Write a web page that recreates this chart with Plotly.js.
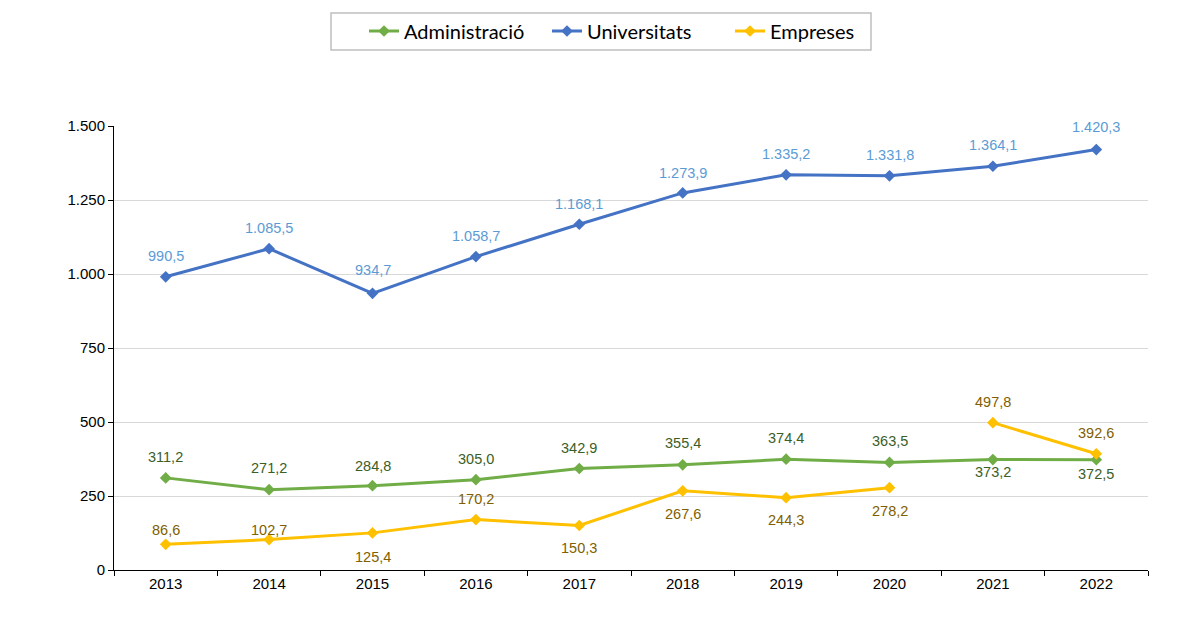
<!DOCTYPE html>
<html><head><meta charset="utf-8">
<script src="https://cdn.plot.ly/plotly-3.0.1.min.js"></script>
<style>body{margin:0;background:#fff}#chart{width:1202px;height:635px}</style>
</head><body><div id="chart"></div>
<script>
var years = ['2013','2014','2015','2016','2017','2018','2019','2020','2021','2022'];
var administracio = [311.2, 271.2, 284.8, 305.0, 342.9, 355.4, 374.4, 363.5, 373.2, 372.5];
var universitats = [990.5, 1085.5, 934.7, 1058.7, 1168.1, 1273.9, 1335.2, 1331.8, 1364.1, 1420.3];
var empreses = [86.6, 102.7, 125.4, 170.2, 150.3, 267.6, 244.3, 278.2, 497.8, 392.6];
var empresesBreakAfter = '2020';
var yTicks = [0, 250, 500, 750, 1000, 1250, 1500];

// label offsets in px (positive = above)
var admShift = [21, 22, 20, 21, 21, 22, 21, 21, -12, -14];
var uniShift = [21, 21, 23, 21, 20, 20, 21, 21, 21, 23];
var empShift = [14, 10, -24, 21, -22, -23, -22, -23, 21, 21];

function fmt(v){
  var s = v.toFixed(1).split('.');
  var i = s[0].replace(/\B(?=(\d{3})+(?!\d))/g, '.');
  return i + ',' + s[1];
}

var GREEN='#70AD47', BLUE='#4472C4', GOLD='#FFC000';
var breakIdx = years.indexOf(empresesBreakAfter) + 1;

function tr(name, x, y, color, show){
  return {type:'scatter', mode:'lines+markers', name:name, x:x, y:y,
    line:{color:color, width:3}, marker:{symbol:'diamond', size:9, color:color},
    showlegend:show, legendgroup:name, cliponaxis:false};
}

var traces = [
  tr('Administració', years, administracio, GREEN, true),
  tr('Universitats', years, universitats, BLUE, true),
  tr('Empreses', years.slice(0, breakIdx), empreses.slice(0, breakIdx), GOLD, true),
  tr('Empreses', years.slice(breakIdx), empreses.slice(breakIdx), GOLD, false)
];

var ann = [];
function addLabels(vals, shifts, color){
  for (var i=0;i<years.length;i++){
    ann.push({x:i, y:vals[i], xref:'x', yref:'y', text:fmt(vals[i]),
      showarrow:false, yshift:shifts[i], xanchor:'center', yanchor:'middle',
      font:{family:'Liberation Sans, Arial, sans-serif', size:14.5, color:color}});
  }
}
addLabels(administracio, admShift, '#3B5E25');
addLabels(universitats, uniShift, '#5B9BD5');
addLabels(empreses, empShift, '#7F6000');

// legend frame (pixel box converted to paper coords)
var L=114, R=54, T=126, B=65, W=1202, H=635;
var pw=W-L-R, ph=H-T-B;
function px(x){return (x-L)/pw;}
function py(y){return (H-B-y)/ph;}

var layout = {
  width:W, height:H,
  margin:{l:L, r:R, t:T, b:B},
  paper_bgcolor:'#fff', plot_bgcolor:'#fff',
  separators:',.',
  font:{family:'Liberation Sans, Arial, sans-serif', size:15, color:'#000'},
  xaxis:{type:'category', categoryarray:years, range:[-0.5, years.length-0.5], autorange:false,
    tickson:'boundaries', ticks:'outside', ticklen:5, tickcolor:'#000', tickangle:0,
    showline:true, linecolor:'#000', linewidth:1, showgrid:false, zeroline:false,
    tickfont:{size:15, color:'#000'}},
  yaxis:{range:[0,1500], autorange:false, tickvals:yTicks, tickformat:',d', ticks:'outside', ticklen:5, tickcolor:'#000',
    showline:true, linecolor:'#000', linewidth:1, showgrid:true, gridcolor:'#D9D9D9', gridwidth:1,
    zeroline:false, tickfont:{size:15, color:'#000'}},
  showlegend:true,
  legend:{orientation:'h', xref:'container', yref:'container', x:364/W, xanchor:'left',
    y:1-31/H, yanchor:'middle', borderwidth:0, bgcolor:'rgba(0,0,0,0)',
    font:{family:'Lato, Carlito, Calibri, sans-serif', size:20, color:'#000'},
    entrywidth:138, tracegroupgap:0, traceorder:'normal'},
  shapes:[{type:'rect', xref:'paper', yref:'paper', x0:px(331), x1:px(871), y0:py(50), y1:py(13),
    line:{color:'#BFBFBF', width:1.5}, fillcolor:'rgba(0,0,0,0)', layer:'below'}],
  annotations:ann
};

Plotly.newPlot('chart', traces, layout, {displayModeBar:false, staticPlot:true});
</script></body></html>
